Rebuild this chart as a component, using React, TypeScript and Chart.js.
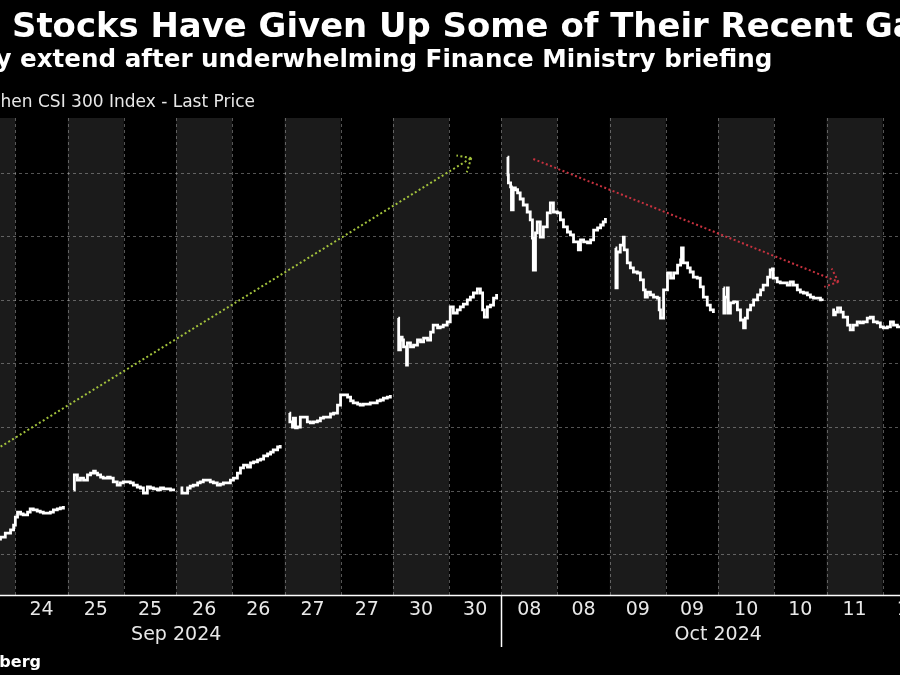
import { useEffect, useRef } from "react";
import { Chart, registerables } from "chart.js";

Chart.register(...registerables);

// ---- data ----
const DAY_LABELS = ["23", "24", "25", "26", "27", "30", "08", "09", "10", "11"];
const MONTH_LABELS = ["Sep 2024", "Oct 2024"];
const MONTH_FIRST_DAY = [0, 6];
const Y_TICKS = [3200, 3400, 3600, 3800, 4000, 4200, 4400];
const Y_MIN = 3071;
const Y_MAX = 4573;

// [trading minutes since 09:30, CSI 300 price]
const sep23: number[][] = [[3, 3205], [30, 3198], [60, 3203], [90, 3196], [120, 3200], [150, 3204], [180, 3199], [210, 3203], [230, 3201]];
const sep24: number[][] = [[3, 3219], [17, 3228], [31, 3225], [45, 3238], [58, 3241], [72, 3247], [86, 3253], [97, 3266], [109, 3276], [116, 3291], [120, 3316], [125, 3332], [132, 3326], [138, 3323], [148, 3332], [154, 3342], [161, 3339], [170, 3335], [177, 3332], [184, 3329], [193, 3329], [200, 3332], [207, 3339], [216, 3342], [223, 3345], [230, 3351]];
const sep25: number[][] = [[5, 3402], [7, 3449], [14, 3433], [21, 3439], [28, 3433], [37, 3449], [44, 3455], [51, 3461], [55, 3455], [60, 3449], [67, 3442], [73, 3439], [83, 3442], [89, 3439], [96, 3427], [105, 3417], [112, 3424], [119, 3427], [128, 3427], [135, 3424], [142, 3417], [151, 3411], [158, 3408], [165, 3392], [174, 3411], [181, 3408], [188, 3405], [197, 3402], [204, 3408], [211, 3405], [220, 3405], [227, 3402], [234, 3398]];
const sep26: number[][] = [[2, 3408], [5, 3392], [18, 3408], [24, 3414], [31, 3417], [41, 3424], [47, 3427], [54, 3433], [63, 3433], [70, 3427], [77, 3424], [86, 3417], [93, 3420], [100, 3424], [109, 3424], [116, 3433], [123, 3439], [132, 3455], [139, 3471], [146, 3480], [155, 3474], [162, 3487], [169, 3490], [178, 3496], [185, 3499], [192, 3509], [201, 3515], [208, 3521], [214, 3528], [224, 3537], [230, 3543]];
const sep27: number[][] = [[3, 3644], [4, 3616], [10, 3600], [12, 3628], [17, 3597], [21, 3600], [28, 3631], [35, 3631], [44, 3616], [51, 3613], [58, 3616], [67, 3619], [74, 3628], [81, 3631], [90, 3631], [97, 3641], [104, 3644], [113, 3669], [120, 3701], [127, 3701], [136, 3694], [143, 3682], [149, 3676], [159, 3672], [165, 3669], [172, 3672], [181, 3672], [188, 3676], [195, 3676], [204, 3682], [211, 3685], [218, 3691], [227, 3694], [234, 3701]];
const sep30: number[][] = [[4, 3943], [5, 3843], [9, 3883], [13, 3874], [16, 3852], [23, 3795], [25, 3865], [32, 3852], [39, 3858], [48, 3874], [55, 3868], [62, 3880], [71, 3874], [78, 3899], [84, 3921], [94, 3912], [100, 3915], [107, 3921], [116, 3931], [123, 3978], [130, 3959], [139, 3969], [146, 3978], [153, 3987], [162, 4000], [169, 4009], [176, 4022], [185, 4035], [192, 4022], [197, 3969], [201, 3946], [208, 3978], [215, 3984], [222, 4006], [229, 4019]];
const oct8: number[][] = [[6, 4450], [7, 4394], [8, 4369], [13, 4356], [15, 4284], [19, 4353], [24, 4347], [29, 4337], [35, 4318], [42, 4299], [51, 4277], [58, 4252], [63, 4195], [65, 4094], [70, 4211], [74, 4246], [81, 4198], [88, 4230], [97, 4274], [104, 4306], [111, 4277], [120, 4274], [127, 4252], [134, 4230], [143, 4214], [150, 4205], [157, 4183], [168, 4158], [173, 4189], [180, 4183], [189, 4180], [196, 4189], [203, 4220], [212, 4227], [219, 4236], [225, 4246], [230, 4258]];
const oct9: number[][] = [[5, 4164], [6, 4038], [9, 4151], [16, 4173], [23, 4198], [25, 4158], [32, 4117], [39, 4101], [46, 4088], [55, 4085], [62, 4063], [69, 4032], [73, 4009], [78, 4025], [85, 4016], [92, 4009], [101, 4006], [105, 3969], [108, 3943], [115, 4032], [124, 4085], [131, 4069], [138, 4085], [147, 4110], [154, 4126], [156, 4164], [160, 4117], [170, 4101], [176, 4088], [183, 4072], [192, 4069], [199, 4041], [206, 4009], [215, 3984], [222, 3969], [229, 3959]];
const oct10: number[][] = [[4, 4038], [5, 3959], [8, 4009], [13, 4038], [15, 3959], [20, 3991], [27, 3994], [36, 3969], [43, 3937], [50, 3912], [54, 3943], [59, 3969], [66, 3984], [73, 4000], [82, 4016], [89, 4032], [95, 4047], [105, 4072], [111, 4095], [116, 4098], [118, 4069], [127, 4057], [134, 4054], [141, 4054], [150, 4047], [157, 4057], [164, 4047], [173, 4032], [180, 4025], [187, 4022], [196, 4016], [203, 4009], [210, 4006], [219, 4006], [226, 4000], [230, 3997]];
const oct11: number[][] = [[5, 3969], [8, 3953], [12, 3962], [17, 3975], [24, 3962], [30, 3946], [40, 3921], [46, 3906], [53, 3921], [62, 3931], [69, 3928], [76, 3931], [85, 3943], [92, 3946], [99, 3931], [108, 3928], [115, 3915], [122, 3912], [131, 3915], [138, 3931], [145, 3921], [154, 3915], [161, 3915], [175, 3909], [190, 3918], [205, 3906], [220, 3896], [230, 3887]];

const SESSIONS = [sep23, sep24, sep25, sep26, sep27, sep30, oct8, oct9, oct10, oct11];

// [day index, trading minute, price]
const upArrow: number[][] = [[0, -8, 3249], [5, 171, 4447]];
const downArrow: number[][] = [[6, 65, 4444], [9, 19, 4057]];

// ---- axis units: each day = pre-open (8) + morning (120) + afternoon (120) ----
const PRE = 8;
const MORNING_END = 128;
const DAY_LEN = 248;
const toX = (day: number, t: number) => day * DAY_LEN + PRE + t;

const priceData: { x: number; y: number | null }[] = [];
SESSIONS.forEach((s, d) => {
  s.forEach(([t, p]) => priceData.push({ x: toX(d, t), y: p }));
  priceData.push({ x: d * DAY_LEN + DAY_LEN - 0.5, y: null });
});
const arrowData = (a: number[][]) => a.map(([d, t, p]) => ({ x: toX(d, t), y: p }));

const GREEN = "#a3c23c";
const RED = "#c8323f";
const GRID = "rgba(200,200,200,0.42)";
const CANVAS_W = 1084;
const CANVAS_LEFT = -149;

const decorPlugin = {
  id: "decor",
  beforeDatasetsDraw(chart: any) {
    const { ctx, chartArea: ca, scales } = chart;
    const x = scales.x;
    const y = scales.y;
    ctx.save();
    // session shading (mornings)
    ctx.fillStyle = "#1b1b1b";
    for (let d = 0; d < DAY_LABELS.length; d++) {
      const x0 = x.getPixelForValue(d * DAY_LEN);
      const x1 = x.getPixelForValue(d * DAY_LEN + MORNING_END);
      ctx.fillRect(x0, ca.top, x1 - x0, ca.bottom - ca.top);
    }
    // dashed grid
    ctx.strokeStyle = GRID;
    ctx.lineWidth = 1;
    ctx.setLineDash([3, 3]);
    for (let d = 0; d <= DAY_LABELS.length; d++) {
      for (const off of [0, MORNING_END]) {
        const v = d * DAY_LEN + off;
        if (v <= 0 || v >= DAY_LABELS.length * DAY_LEN) continue;
        const px = Math.round(x.getPixelForValue(v)) + 0.5;
        ctx.beginPath();
        ctx.moveTo(px, ca.top);
        ctx.lineTo(px, ca.bottom);
        ctx.stroke();
      }
    }
    for (const t of Y_TICKS) {
      const py = Math.round(y.getPixelForValue(t)) + 0.5;
      ctx.beginPath();
      ctx.moveTo(ca.left, py);
      ctx.lineTo(ca.right, py);
      ctx.stroke();
    }
    ctx.restore();
  },
  afterDatasetsDraw(chart: any) {
    const { ctx, chartArea: ca, scales } = chart;
    const x = scales.x;
    ctx.save();
    // arrow heads
    [[1, GREEN], [2, RED]].forEach(([i, color]: any) => {
      const pts = chart.getDatasetMeta(i).data;
      const a = pts[0];
      const b = pts[pts.length - 1];
      const ang = Math.atan2(b.y - a.y, b.x - a.x);
      ctx.strokeStyle = color;
      ctx.lineWidth = 2;
      ctx.setLineDash([2, 2.5]);
      for (const s of [-1, 1]) {
        const wa = ang + Math.PI + s * 0.72;
        ctx.beginPath();
        ctx.moveTo(b.x, b.y);
        ctx.lineTo(b.x + 15 * Math.cos(wa), b.y + 15 * Math.sin(wa));
        ctx.stroke();
      }
    });
    ctx.setLineDash([]);
    // x axis line
    ctx.strokeStyle = "#ffffff";
    ctx.lineWidth = 1.5;
    ctx.beginPath();
    ctx.moveTo(ca.left, ca.bottom + 0.5);
    ctx.lineTo(ca.right, ca.bottom + 0.5);
    ctx.stroke();
    // month separator
    const sepX = Math.round(x.getPixelForValue(MONTH_FIRST_DAY[1] * DAY_LEN)) + 0.5;
    ctx.beginPath();
    ctx.moveTo(sepX, ca.bottom);
    ctx.lineTo(sepX, ca.bottom + 52);
    ctx.stroke();
    // day labels
    ctx.fillStyle = "#e8e8e8";
    ctx.font = '19px "DejaVu Sans"';
    ctx.textAlign = "center";
    ctx.textBaseline = "middle";
    DAY_LABELS.forEach((lab, d) => {
      ctx.fillText(lab, x.getPixelForValue(d * DAY_LEN + MORNING_END / 2), ca.bottom + 15);
      ctx.fillText(lab, x.getPixelForValue(d * DAY_LEN + (MORNING_END + DAY_LEN) / 2), ca.bottom + 15);
    });
    // month labels
    MONTH_LABELS.forEach((lab, i) => {
      const from = MONTH_FIRST_DAY[i] * DAY_LEN;
      const to = (i + 1 < MONTH_FIRST_DAY.length ? MONTH_FIRST_DAY[i + 1] : DAY_LABELS.length) * DAY_LEN;
      ctx.fillText(lab, x.getPixelForValue((from + to) / 2), ca.bottom + 40);
    });
    ctx.restore();
  },
};

export default function App() {
  const ref = useRef<HTMLCanvasElement>(null);
  useEffect(() => {
    const chart = new Chart(ref.current as HTMLCanvasElement, {
      type: "line",
      data: {
        datasets: [
          {
            data: priceData as any,
            borderColor: "#ffffff",
            borderWidth: 2.8,
            pointRadius: 0,
            stepped: true,
            spanGaps: false,
          },
          {
            data: arrowData(upArrow) as any,
            borderColor: GREEN,
            borderWidth: 2,
            borderDash: [2, 2.5],
            pointRadius: 0,
          },
          {
            data: arrowData(downArrow) as any,
            borderColor: RED,
            borderWidth: 2,
            borderDash: [2, 2.5],
            pointRadius: 0,
          },
        ],
      },
      options: {
        animation: false,
        responsive: false,
        events: [],
        layout: { padding: { top: 118, bottom: 80, left: 0, right: 0 } },
        plugins: { legend: { display: false }, tooltip: { enabled: false }, title: { display: false } },
        scales: {
          x: { type: "linear", min: 0, max: DAY_LABELS.length * DAY_LEN, display: false },
          y: { type: "linear", min: Y_MIN, max: Y_MAX, display: false },
        },
      },
      plugins: [decorPlugin],
    });
    return () => chart.destroy();
  }, []);

  const font = '"DejaVu Sans", Verdana, sans-serif';
  return (
    <div
      style={{
        position: "absolute",
        left: 0,
        top: 0,
        width: 900,
        height: 675,
        overflow: "hidden",
        background: "#000",
        fontFamily: font,
        color: "#fff",
      }}
    >
      <canvas
        ref={ref}
        width={CANVAS_W}
        height={675}
        style={{ position: "absolute", left: CANVAS_LEFT, top: 0, width: CANVAS_W, height: 675 }}
      />
      <div style={{ position: "absolute", left: 12, top: 8.5, fontSize: 33.9, fontWeight: "bold", lineHeight: 1, whiteSpace: "nowrap" }}>
        <span style={{ position: "absolute", right: "100%", whiteSpace: "pre" }}>{"China "}</span>
        Stocks Have Given Up Some of Their Recent Gains
      </div>
      <div style={{ position: "absolute", left: 20, top: 47.3, fontSize: 24.6, fontWeight: "bold", lineHeight: 1, whiteSpace: "nowrap" }}>
        <span style={{ position: "absolute", right: "100%", whiteSpace: "pre" }}>{"Losses may "}</span>
        extend after underwhelming Finance Ministry briefing
      </div>
      <div style={{ position: "absolute", left: 38, top: 92.5, fontSize: 17, lineHeight: 1, whiteSpace: "nowrap", color: "#e8e8e8" }}>
        <span style={{ position: "absolute", right: "100%", whiteSpace: "pre" }}>{"Shanghai Shenzhen "}</span>
        CSI 300 Index - Last Price
      </div>
      <div style={{ position: "absolute", right: 859, top: 653.5, fontSize: 16, fontWeight: "bold", lineHeight: 1, whiteSpace: "nowrap" }}>
        Source: Bloomberg
      </div>
    </div>
  );
}
